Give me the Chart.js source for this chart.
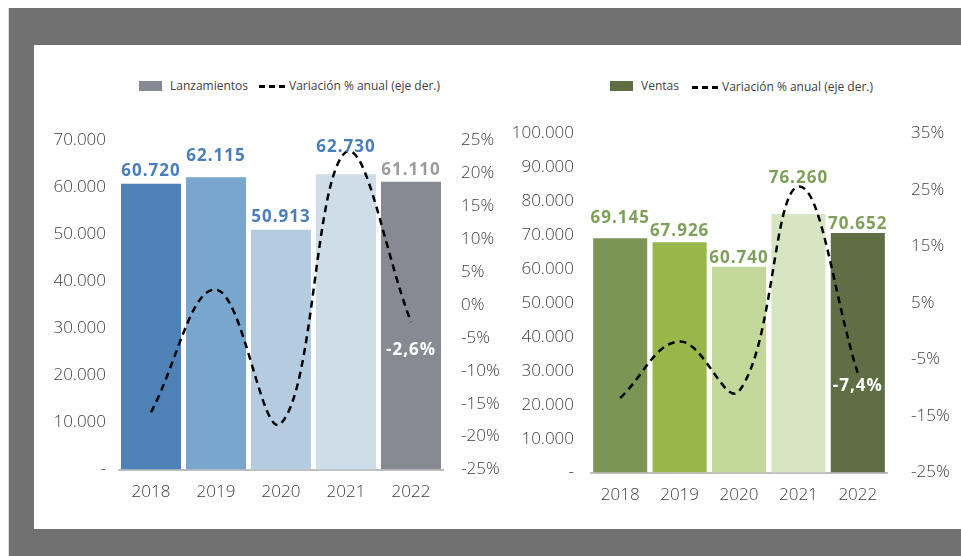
<!DOCTYPE html>
<html lang="es">
<head>
<meta charset="utf-8">
<script src="https://cdn.jsdelivr.net/npm/chart.js@4.4.1/dist/chart.umd.min.js"></script>
<style>
html, body { margin: 0; padding: 0; width: 961px; height: 556px; overflow: hidden; background: #fff; font-family: 'Open Sans', sans-serif; }
#marco { position: absolute; left: 8px; top: 8px; width: 953px; height: 548px; background: #717172; border-left: 1px solid #dcdcdc; }
#panel { position: absolute; left: 34px; top: 45px; width: 927px; height: 484px; background: #fff; }
canvas { position: absolute; }
.ley { position: absolute; font-size: 12px; color: #404040; line-height: 14px; white-space: nowrap; }
.caja { position: absolute; width: 23px; height: 10px; }
.raya { position: absolute; width: 26px; height: 0; border-top: 3px dashed #000; }
</style>
</head>
<body>
<div id="marco"></div>
<div id="panel"></div>

<!-- leyendas -->
<div class="caja" style="left:139px; top:81px; background:#878a92;"></div>
<div class="ley" style="left:170px; top:79px;">Lanzamientos</div>
<div class="raya" style="left:259px; top:85px;"></div>
<div class="ley" style="left:289px; top:79px;">Variación % anual (eje der.)</div>

<div class="caja" style="left:610px; top:81px; background:#5f6e45;"></div>
<div class="ley" style="left:641px; top:79px;">Ventas</div>
<div class="raya" style="left:692px; top:86px;"></div>
<div class="ley" style="left:722px; top:80px;">Variación % anual (eje der.)</div>

<canvas id="graf1" width="514" height="406" style="left:34px; top:100px;"></canvas>
<canvas id="graf2" width="467" height="409" style="left:510px; top:100px;"></canvas>

<script>
// datos
const anios = ['2018', '2019', '2020', '2021', '2022'];
const lanzamientos = [60720, 62115, 50913, 62730, 61110];
const varLanzamientos = [-16.3, 2.3, -18.0, 23.2, -2.6];
const ventas = [69145, 67926, 60740, 76260, 70652];
const varVentas = [-11.8, -1.8, -10.6, 25.6, -7.4];

// ticks de los ejes
const ticksLanz = [0, 10000, 20000, 30000, 40000, 50000, 60000, 70000];
const ticksVarLanz = [-25, -20, -15, -10, -5, 0, 5, 10, 15, 20, 25];
const ticksVentas = [0, 10000, 20000, 30000, 40000, 50000, 60000, 70000, 80000, 90000, 100000];
const ticksVarVentas = [-25, -15, -5, 5, 15, 25, 35];

const FUENTE = "'Open Sans', sans-serif";

function miles(n) {
    return String(n).replace(/\B(?=(\d{3})+(?!\d))/g, '.');
}

function coma(v) {
    return v.toFixed(1).replace('.', ',') + '%';
}

// etiquetas de valores sobre las barras y el % final
const etiquetas = {
    id: 'etiquetas',
    afterDatasetsDraw(chart, args, opts) {
        const ctx = chart.ctx;
        const barras = chart.getDatasetMeta(0).data;
        const linea = chart.getDatasetMeta(1).data;
        const valores = chart.data.datasets[0].data;
        const pct = chart.data.datasets[1].data;
        ctx.save();
        ctx.font = "bold 17px " + FUENTE;
        ctx.letterSpacing = '1px';
        ctx.textAlign = 'center';
        ctx.textBaseline = 'alphabetic';
        barras.forEach((b, i) => {
            ctx.fillStyle = opts.colores[i];
            ctx.fillText(miles(valores[i]), b.x, b.y - opts.subida[i]);
        });
        const u = linea.length - 1;
        ctx.fillStyle = '#fff';
        ctx.textBaseline = 'middle';
        ctx.fillText(coma(pct[u]), linea[u].x, linea[u].y + opts.bajada);
        ctx.restore();
    }
};

function crearGrafico(id, cfg) {
    const ctx = document.getElementById(id).getContext('2d');
    return new Chart(ctx, {
        data: {
            labels: anios,
            datasets: [{
                type: 'bar',
                data: cfg.barras,
                backgroundColor: cfg.colores,
                categoryPercentage: 1,
                barPercentage: cfg.anchoBarra,
                yAxisID: 'y',
                order: 1
            }, {
                type: 'line',
                data: cfg.variacion,
                borderColor: '#000',
                borderWidth: 2.5,
                borderDash: [7, 5],
                pointRadius: 0,
                tension: 0.4,
                fill: false,
                yAxisID: 'y1',
                order: 0
            }]
        },
        options: {
            responsive: false,
            animation: false,
            layout: { padding: { top: cfg.arriba, bottom: 0, left: 0, right: 0 } },
            plugins: {
                legend: { display: false },
                tooltip: { enabled: false },
                etiquetas: { colores: cfg.coloresEtiqueta, subida: cfg.subida, bajada: cfg.bajada }
            },
            scales: {
                x: {
                    grid: { display: false },
                    border: { display: true, color: '#bfbfbf', width: 2 },
                    ticks: { color: '#404040', font: { family: FUENTE, size: 17, weight: 300 }, padding: 4, maxRotation: 0 }
                },
                y: {
                    position: 'left',
                    min: cfg.ticksIzq[0],
                    max: cfg.ticksIzq[cfg.ticksIzq.length - 1],
                    grid: { display: false },
                    border: { display: false },
                    ticks: {
                        stepSize: cfg.ticksIzq[1] - cfg.ticksIzq[0],
                        color: '#404040',
                        font: { family: FUENTE, size: 17, weight: 300 },
                        padding: cfg.padIzq,
                        callback: v => v === 0 ? '-' : miles(v)
                    },
                    afterFit(s) { s.width = cfg.anchoIzq; }
                },
                y1: {
                    position: 'right',
                    min: cfg.ticksDer[0],
                    max: cfg.ticksDer[cfg.ticksDer.length - 1],
                    grid: { display: false },
                    border: { display: false },
                    ticks: {
                        stepSize: cfg.ticksDer[1] - cfg.ticksDer[0],
                        color: '#404040',
                        font: { family: FUENTE, size: 17, weight: 300 },
                        padding: cfg.padDer,
                        callback: v => v + '%'
                    },
                    afterFit(s) { s.width = cfg.anchoDer; }
                }
            }
        },
        plugins: [etiquetas]
    });
}

crearGrafico('graf1', {
    barras: lanzamientos,
    variacion: varLanzamientos,
    colores: ['#4e81b5', '#79a6cc', '#b5cbe0', '#cfdde8', '#878a92'],
    coloresEtiqueta: ['#4a7ebb', '#4a7ebb', '#4a7ebb', '#4a7ebb', '#9c9c9c'],
    subida: [8, 16, 8, 22, 7],
    bajada: 28,
    anchoBarra: 0.923,
    ticksIzq: ticksLanz,
    ticksDer: ticksVarLanz,
    arriba: 40,
    anchoIzq: 84.5,
    anchoDer: 104.5,
    padIzq: 4.5,
    padDer: 9.5
});

crearGrafico('graf2', {
    barras: ventas,
    variacion: varVentas,
    colores: ['#7b9554', '#97b74b', '#c3d89b', '#d8e5c2', '#5f6e45'],
    coloresEtiqueta: ['#7ea05a', '#7ea05a', '#7ea05a', '#7ea05a', '#7ea05a'],
    subida: [15, 6, 3.5, 31.5, 4.5],
    bajada: 13,
    anchoBarra: 0.91,
    ticksIzq: ticksVentas,
    ticksDer: ticksVarVentas,
    arriba: 33.5,
    anchoIzq: 80.5,
    anchoDer: 89.5,
    padIzq: 8.5,
    padDer: 15.5
});
</script>
</body>
</html>
